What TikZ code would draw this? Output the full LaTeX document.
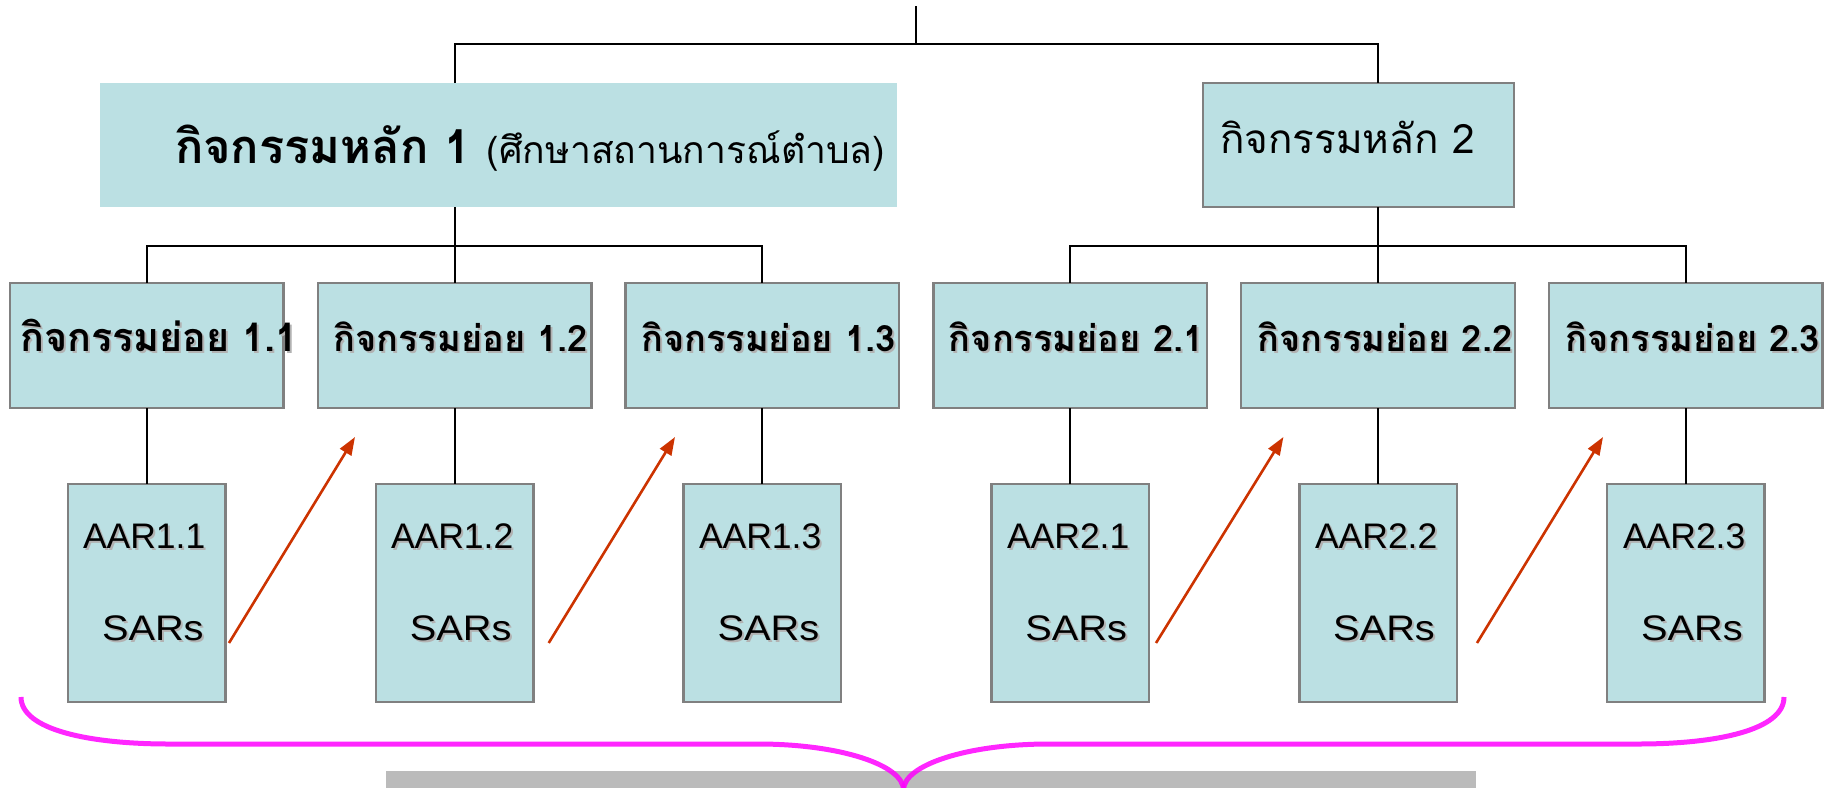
\documentclass[tikz,border=0pt]{standalone}
\usepackage{fontspec}
\usepackage{graphicx}
\setmainfont{Liberation Sans}
\newfontfamily\thaifont[Script=Thai]{Loma}
\usetikzlibrary{arrows.meta,calc}
\definecolor{boxfill}{HTML}{BBE0E3}
\definecolor{boxline}{HTML}{808080}
\definecolor{arrowred}{HTML}{CC3300}
\definecolor{bracemag}{HTML}{FF00FF}
\definecolor{bargray}{HTML}{BBBBBB}
\newcommand\shadowed[1]{\rlap{\hspace{2pt}\raisebox{-2pt}{\textcolor{black!30}{#1}}}#1}
\newcommand\widesars{\scalebox{1.12}[1]{SARs}}
\begin{document}
\begin{tikzpicture}[x=1pt,y=-1pt,
  every node/.style={inner sep=0pt, outer sep=0pt},
  plainbox/.style={fill=boxfill, draw=none},
  box/.style={fill=boxfill, draw=boxline, line width=2.5pt},
  subbox/.style={box, minimum width=273.6pt, minimum height=125pt},
  aarbox/.style={box, minimum width=157.5pt, minimum height=218pt},
  conn/.style={draw=black, line width=2pt},
  flow/.style={draw=arrowred, line width=2.6pt, -{Triangle[length=18pt,width=13pt]}},
  thailabel/.style={font={\thaifont\bfseries\fontsize{36.2}{36.2}\selectfont}, anchor=base},
  aarlabel/.style={font={\fontsize{35.5}{35.5}\selectfont}, anchor=base west},
  bracepath/.style={draw=bracemag, line width=5pt, opacity=0.85},
]
\useasboundingbox (0,0) rectangle (1828,787);

% main boxes
\node[plainbox, minimum width=797pt, minimum height=124pt] (m1) at (498.5,145) {};
\node[box, minimum width=311pt, minimum height=124pt] (m2) at (1358.5,145) {};

% sub boxes
\node[subbox] (s11) at (146.8,345.5) {};
\node[subbox] (s12) at (454.6,345.5) {};
\node[subbox] (s13) at (762.4,345.5) {};
\node[subbox] (s21) at (1070.2,345.5) {};
\node[subbox] (s22) at (1378.0,345.5) {};
\node[subbox] (s23) at (1685.8,345.5) {};

% AAR boxes
\node[aarbox] (a11) at (146.8,593) {};
\node[aarbox] (a12) at (454.6,593) {};
\node[aarbox] (a13) at (762.4,593) {};
\node[aarbox] (a21) at (1070.2,593) {};
\node[aarbox] (a22) at (1378.0,593) {};
\node[aarbox] (a23) at (1685.8,593) {};

% connectors
\coordinate (top) at (915.5,6);
\coordinate (busL) at (454.6,44);
\coordinate (busR) at (1378.0,44);
\draw[conn] (top) -- (top |- busL);
\draw[conn] (m1.north -| s12) -- (busL) -- (busR) -- (m2.north -| s22);
\coordinate (bus1) at (0,246);
\draw[conn] (m1.south -| s12) -- (s12.north);
\draw[conn] (s11.north) -- (s11.north |- bus1) -- (s13.north |- bus1) -- (s13.north);
\draw[conn] (m2.south -| s22) -- (s22.north);
\draw[conn] (s21.north) -- (s21.north |- bus1) -- (s23.north |- bus1) -- (s23.north);
\foreach \s/\a in {s11/a11,s12/a12,s13/a13,s21/a21,s22/a22,s23/a23}
  \draw[conn] (\s.south) -- (\a.north);

% red arrows
\coordinate (f1s) at (229,643);    \coordinate (f1e) at (355,437);
\coordinate (f2s) at (548.7,643);  \coordinate (f2e) at (675,437);
\coordinate (f3s) at (1156,643);   \coordinate (f3e) at (1283.4,437);
\coordinate (f4s) at (1477,643);   \coordinate (f4e) at (1603,437);
\draw[flow] (f1s) -- (f1e);
\draw[flow] (f2s) -- (f2e);
\draw[flow] (f3s) -- (f3e);
\draw[flow] (f4s) -- (f4e);

% texts
\node[anchor=base west] (m1t) at (175,163) {\thaifont{\bfseries\fontsize{47}{47}\selectfont กิจกรรมหลัก 1 }\fontsize{37.3}{37.3}\selectfont(ศึกษาสถานการณ์ตำบล)};
\node[anchor=base west] (m2t) at (1220,153) {\thaifont\fontsize{40.5}{40.5}\selectfont กิจกรรมหลัก 2};

\node[thailabel, font={\thaifont\bfseries\fontsize{39.5}{39.5}\selectfont}] (t11) at (159,351) {\shadowed{กิจกรรมย่อย 1.1}};
\node[thailabel] (t12) at (460.6,351) {\shadowed{กิจกรรมย่อย 1.2}};
\node[thailabel] (t13) at (768.4,351) {\shadowed{กิจกรรมย่อย 1.3}};
\node[thailabel] (t21) at (1076.2,351) {\shadowed{กิจกรรมย่อย 2.1}};
\node[thailabel] (t22) at (1385,351) {\shadowed{กิจกรรมย่อย 2.2}};
\node[thailabel] (t23) at (1692.8,351) {\shadowed{กิจกรรมย่อย 2.3}};

\node[aarlabel] (r11) at (83,548) {\shadowed{AAR1.1}};
\node[aarlabel] (r12) at (391,548) {\shadowed{AAR1.2}};
\node[aarlabel] (r13) at (699,548) {\shadowed{AAR1.3}};
\node[aarlabel] (r21) at (1007,548) {\shadowed{AAR2.1}};
\node[aarlabel] (r22) at (1315,548) {\shadowed{AAR2.2}};
\node[aarlabel] (r23) at (1623,548) {\shadowed{AAR2.3}};

\node[aarlabel] (q11) at (102,640) {\shadowed{\widesars}};
\node[aarlabel] (q12) at (409.8,640) {\shadowed{\widesars}};
\node[aarlabel] (q13) at (717.6,640) {\shadowed{\widesars}};
\node[aarlabel] (q21) at (1025.4,640) {\shadowed{\widesars}};
\node[aarlabel] (q22) at (1333.2,640) {\shadowed{\widesars}};
\node[aarlabel] (q23) at (1641,640) {\shadowed{\widesars}};

% gray bar and brace
\fill[bargray] (386,771) rectangle (1476,790);
\draw[bracepath] (21,697) .. controls (21,730) and (90,744) .. (169,744)
  -- (758,744) .. controls (840,744) and (903.5,765) .. (903.5,790);
\draw[bracepath] (903.5,790) .. controls (903.5,765) and (967,744) .. (1049,744)
  -- (1638,744) .. controls (1717,744) and (1784,730) .. (1784,697);
\end{tikzpicture}
\end{document}
